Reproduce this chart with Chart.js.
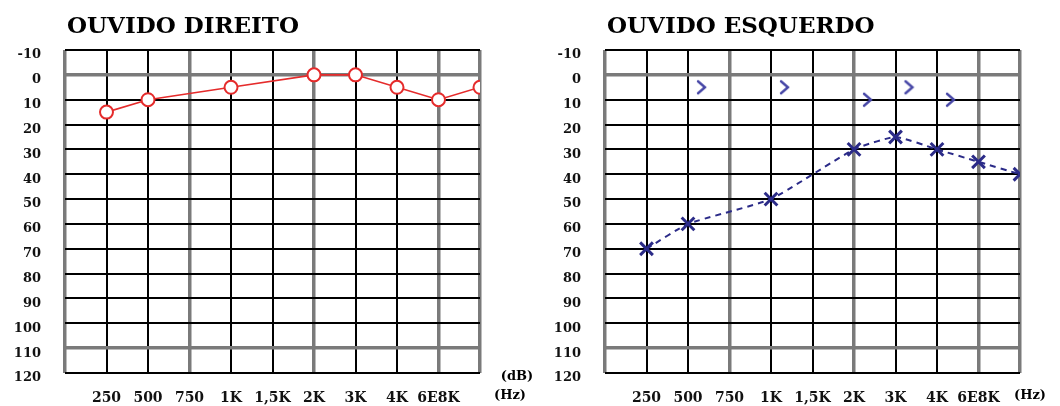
<!DOCTYPE html>
<html>
<head>
<meta charset="utf-8">
<script src="https://cdn.jsdelivr.net/npm/chart.js@4"></script>
<style>
  body { margin: 0; background: #fff; }
  #wrap { position: relative; width: 1060px; height: 406px; }
  #left { position: absolute; left: 0; top: 0; }
  #right { position: absolute; left: 540px; top: 0; }
</style>
</head>
<body>
<div id="wrap">
  <canvas id="left" width="540" height="406"></canvas>
  <canvas id="right" width="520" height="406"></canvas>
</div>
<script>
// grid columns of the audiogram (index 0 is the left border)
const gridFreqs = [0, 250, 500, 750, 1000, 1500, 2000, 3000, 4000, 6000, 8000]
const freqLabels = ['', '250', '500', '750', '1K', '1,5K', '2K', '3K', '4K', '6E8K', '']

const airFreqs = [250, 500, 1000, 2000, 3000, 4000, 6000, 8000]
const rightEar = [15, 10, 5, 0, 0, 5, 10, 5]
const leftEar = [70, 60, 50, 30, 25, 30, 35, 40]

const boneFreqs = [500, 1000, 2000, 3000, 4000]
const leftBone = [5, 5, 10, 5, 10]

const greyCols = [0, 3, 6, 9, 10]
const greyRows = [0, 110]

const FONT = 'DejaVu Serif'

function pts(freqs, vals) {
    return freqs.map((f, i) => ({ x: gridFreqs.indexOf(f), y: vals[i] }))
}

// ">" bone conduction mark, drawn just right of the frequency line
function chevron() {
    const c = document.createElement('canvas')
    c.width = 44
    c.height = 20
    const g = c.getContext('2d')
    g.strokeStyle = '#4646a6'
    g.lineWidth = 2.4
    g.lineCap = 'round'
    g.beginPath()
    g.moveTo(32, 4)
    g.lineTo(39, 10)
    g.lineTo(32, 16)
    g.stroke()
    return c
}

const extras = {
    id: 'extras',
    afterDraw(chart, args, opts) {
        const ctx = chart.ctx
        const a = chart.chartArea
        ctx.save()
        ctx.fillStyle = '#000'
        ctx.font = 'bold 23px ' + FONT
        ctx.textBaseline = 'alphabetic'
        ctx.textAlign = 'left'
        ctx.fillText(opts.title, a.left + 2, 33)
        ctx.font = 'bold 13px ' + FONT
        ctx.textAlign = 'center'
        ctx.fillText('(Hz)', a.right + opts.hzOffset, 399)
        if (opts.db) ctx.fillText('(dB)', a.right + 37, 380)
        ctx.restore()
    }
}

function makeChart(id, title, datasets, padRight, hzOffset, db) {
    return new Chart(document.getElementById(id), {
        type: 'line',
        data: { datasets: datasets },
        options: {
            responsive: false,
            animation: false,
            layout: { padding: { top: 50, right: padRight, left: 0, bottom: 0 } },
            plugins: {
                legend: { display: false },
                tooltip: { enabled: false },
                extras: { title: title, hzOffset: hzOffset, db: db }
            },
            scales: {
                x: {
                    type: 'linear',
                    min: 0,
                    max: 10,
                    afterFit: (s) => { s.height = 33 },
                    border: { display: false },
                    grid: {
                        drawTicks: false,
                        color: (c) => greyCols.includes(c.tick.value) ? '#7a7a7a' : '#000',
                        lineWidth: (c) => greyCols.includes(c.tick.value) ? 3.5 : 2
                    },
                    ticks: {
                        stepSize: 1,
                        autoSkip: false,
                        maxRotation: 0,
                        padding: 17,
                        color: '#111',
                        font: { family: FONT, size: 14, weight: 'bold' },
                        callback: (v) => freqLabels[v]
                    }
                },
                y: {
                    min: -10,
                    max: 120,
                    reverse: true,
                    afterFit: (s) => { s.width = 65 },
                    border: { display: false },
                    grid: {
                        drawTicks: false,
                        color: (c) => greyRows.includes(c.tick.value) ? '#7a7a7a' : '#000',
                        lineWidth: (c) => greyRows.includes(c.tick.value) ? 3.5 : 2
                    },
                    ticks: {
                        stepSize: 10,
                        padding: 24,
                        labelOffset: 5,
                        color: '#111',
                        font: { family: FONT, size: 13, weight: 'bold' }
                    }
                }
            }
        },
        plugins: [extras]
    })
}

makeChart('left', 'OUVIDO DIREITO', [{
    data: pts(airFreqs, rightEar),
    borderColor: '#e52b2b',
    borderWidth: 1.6,
    tension: 0,
    pointRadius: 6.5,
    pointBorderWidth: 2,
    pointBorderColor: '#e52b2b',
    pointBackgroundColor: '#fff'
}], 60, 30, true)

makeChart('right', 'OUVIDO ESQUERDO', [{
    data: pts(airFreqs, leftEar),
    borderColor: '#2b2b88',
    borderWidth: 2,
    borderDash: [6, 5],
    tension: 0.15,
    pointStyle: 'crossRot',
    pointRadius: 9,
    pointBorderWidth: 3,
    pointBorderColor: '#2b2b88'
}, {
    data: pts(boneFreqs, leftBone),
    showLine: false,
    pointStyle: chevron(),
    pointRadius: 10
}], 40, 10, false)
</script>
</body>
</html>
